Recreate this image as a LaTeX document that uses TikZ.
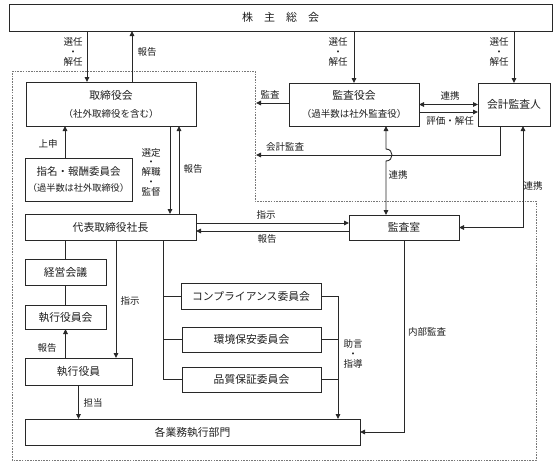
\documentclass[tikz,border=0pt]{standalone}
\usepackage{fontspec}
\setmainfont{Noto Sans CJK JP}
\usetikzlibrary{arrows.meta,calc}
\definecolor{lc}{RGB}{40,40,40}
\definecolor{tc}{RGB}{30,30,30}
\definecolor{dc}{RGB}{120,120,120}
\newcommand\smallfnt{\fontsize{9.5}{9.5}\selectfont}
\newcommand\tinyfnt{\fontsize{9.2}{9.2}\selectfont}
\begin{document}
\begin{tikzpicture}[x=1pt,y=-1pt,
  box/.style={draw=lc, line width=0.9pt, inner sep=0pt, outer sep=0pt, align=center,
    font=\fontsize{10.8}{18}\selectfont, text=tc},
  lbl/.style={inner sep=0pt, align=center, font=\fontsize{9.5}{9.7}\selectfont, text=tc},
  ln/.style={draw=lc, line width=0.9pt},
  arr/.style={ln, -{Triangle[length=5pt,width=4.5pt]}},
  darr/.style={ln, {Triangle[length=5pt,width=4.5pt]}-{Triangle[length=5pt,width=4.5pt]}},
  region/.style={draw=dc, line width=0.7pt, dash pattern=on 1.6pt off 1.1pt}
]
\useasboundingbox (0,0) rectangle (559,469);

% dashed region
\draw[region] (12,71) -- (255,71) -- (255,201) -- (536,201) -- (536,460) -- (12,460) -- cycle;

% boxes
\node[box, minimum width=543, minimum height=27, font=\fontsize{11}{11}\selectfont] (gm) at (280.5,17.5) {株\hspace{1em}主\hspace{1em}総\hspace{1em}会};
\node[box, minimum width=170, minimum height=44] (bod) at (111,104) {取締役会\\{\smallfnt （社外取締役を含む）}};
\node[box, minimum width=130, minimum height=43] (asb) at (354,104.5) {監査役会\\{\smallfnt （過半数は社外監査役）}};
\node[box, minimum width=72, minimum height=43] (aud) at (514,104.5) {会計監査人};
\node[box, minimum width=107, minimum height=43, font=\fontsize{10.5}{16}\selectfont] (nom) at (78.5,179.5) {指名・報酬委員会\\{\tinyfnt （過半数は社外取締役）}};
\node[box, minimum width=171, minimum height=26] (pres) at (110.5,227) {代表取締役社長};
\node[box, minimum width=110, minimum height=25] (iad) at (404,227.5) {監査室};
\node[box, minimum width=81, minimum height=26] (mgm) at (65.5,272) {経営会議};
\node[box, minimum width=81, minimum height=24] (eoc) at (65.5,317) {執行役員会};
\node[box, minimum width=107, minimum height=27] (eo) at (78.5,371.5) {執行役員};
\node[box, minimum width=335, minimum height=26] (div) at (192.5,432) {各業務執行部門};
\node[box, minimum width=140, minimum height=26] (cmp) at (251,296) {コンプライアンス委員会};
\node[box, minimum width=139, minimum height=25] (env) at (251.5,339.5) {環境保安委員会};
\node[box, minimum width=139, minimum height=25] (qa) at (251.5,379.5) {品質保証委員会};

% connectors
\draw[arr] ([xshift=-24]bod.north |- gm.south) -- ([xshift=-24]bod.north);
\draw[arr] ([xshift=21]bod.north) -- ([xshift=21]bod.north |- gm.south);
\draw[arr] (asb.north |- gm.south) -- (asb.north);
\draw[arr] (aud.north |- gm.south) -- (aud.north);
\draw[darr] (asb.east) -- (aud.west);
\draw[arr] ([yshift=-7.5]asb.east) -- ([yshift=-7.5]aud.west);
\coordinate (auditend) at (256,103);
\draw[arr] (asb.west |- auditend) -- (auditend);
\coordinate (acctend) at (256,155);
\draw[arr] ([xshift=-14]aud.south) |- (acctend);
\coordinate (hop) at (386,155);
\draw[darr] (asb.south -| hop) -- ($(hop)+(0,-6)$) .. controls +(8,0) and +(8,0) .. ($(hop)+(0,6)$) -- (iad.north -| hop);
\draw[darr] ([xshift=9]aud.south) |- (iad.east);
\draw[arr] ([xshift=59]bod.south) -- ([xshift=59]bod.south |- pres.north);
\draw[arr] ([xshift=68]bod.south |- pres.north) -- ([xshift=68]bod.south);
\draw[arr] ([xshift=-13.5]nom.north) -- ([xshift=-13.5]nom.north |- bod.south);
\draw[arr] ([yshift=4]pres.east) -- ([yshift=4]pres.east -| iad.west);
\draw[arr] ([yshift=-4]pres.east -| iad.west) -- ([yshift=-4]pres.east);
\draw[ln] (mgm.north |- pres.south) -- (mgm.north);
\draw[ln] (mgm.south) -- (eoc.north);
\draw[arr] (eoc.south |- eo.north) -- (eoc.south);
\draw[arr] ([xshift=5.5]pres.south) -- ([xshift=5.5]pres.south |- eo.north);
\draw[arr] (eo.south) -- (eo.south |- div.north);
\coordinate (trunk) at ([xshift=52.5]pres.south);
\draw[ln] (trunk) |- (qa.west);
\draw[ln] (trunk |- cmp.west) -- (cmp.west);
\draw[ln] (trunk |- env.west) -- (env.west);
\draw[arr] (cmp.east) -| ([xshift=-22]div.north east);
\coordinate (advx) at ([xshift=17]cmp.east);
\draw[ln] (env.east) -- (env.east -| advx);
\draw[ln] (qa.east) -- (qa.east -| advx);
\draw[arr] (iad.south) |- (div.east);

% labels
\node[lbl] (l1) at (73,52) {選任\\・\\解任};
\node[lbl] (l2) at (147,52) {報告};
\node[lbl] (l3) at (338,52) {選任\\・\\解任};
\node[lbl] (l4) at (499,52) {選任\\・\\解任};
\node[lbl] (l5) at (270,95) {監査};
\node[lbl] (l6) at (450,96) {連携};
\node[lbl] (l7) at (450,121) {評価・解任};
\node[lbl] (l8) at (285,147) {会計監査};
\node[lbl] (l9) at (398,175) {連携};
\node[lbl] (l10) at (533,186) {連携};
\node[lbl] (l11) at (48,144) {上申};
\node[lbl] (l12) at (151,172) {選定\\・\\解職\\・\\監督};
\node[lbl] (l13) at (193,169) {報告};
\node[lbl] (l14) at (266,215) {指示};
\node[lbl] (l15) at (267,239) {報告};
\node[lbl] (l16) at (130,301) {指示};
\node[lbl] (l17) at (47,348) {報告};
\node[lbl] (l18) at (93,403) {担当};
\node[lbl] (l19) at (353,354) {助言\\・\\指導};
\node[lbl] (l20) at (427,332) {内部監査};
\end{tikzpicture}
\end{document}
